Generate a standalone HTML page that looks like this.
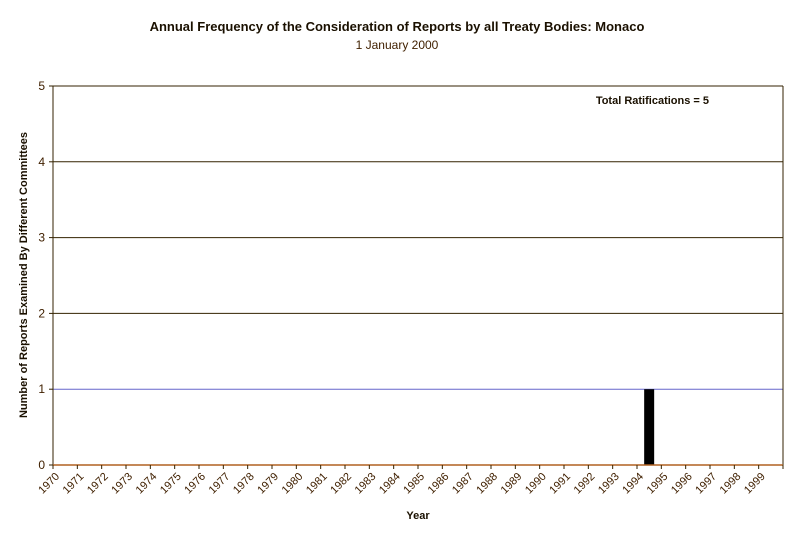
<!DOCTYPE html>
<html><head><meta charset="utf-8"><style>
body{margin:0;background:#fff;}
svg{display:block;font-family:"Liberation Sans",Arial,sans-serif;}
</style></head><body>
<svg id="chart" width="795" height="539">
<text x="397" y="31" text-anchor="middle" font-size="13" font-weight="bold" fill="#1a1000">Annual Frequency of the Consideration of Reports by all Treaty Bodies: Monaco</text>
<text x="397" y="49" text-anchor="middle" font-size="12" fill="#402000">1 January 2000</text>
<text x="709" y="104" text-anchor="end" font-size="11" font-weight="bold" fill="#1a1000">Total Ratifications = 5</text>
<text transform="translate(27,275) rotate(-90)" text-anchor="middle" font-size="11" font-weight="bold" fill="#1a1000">Number of Reports Examined By Different Committees</text>
<text x="418" y="519" text-anchor="middle" font-size="11" font-weight="bold" fill="#1a1000">Year</text>
<g id="grid"></g><g id="bars"></g><g id="axes"></g>
</svg>
<script>
const categories=[1970,1971,1972,1973,1974,1975,1976,1977,1978,1979,1980,1981,1982,1983,1984,1985,1986,1987,1988,1989,1990,1991,1992,1993,1994,1995,1996,1997,1998,1999];
const values=[0,0,0,0,0,0,0,0,0,0,0,0,0,0,0,0,0,0,0,0,0,0,0,0,1,0,0,0,0,0];
const yTicks=[0,1,2,3,4,5];
const L=53,R=783,T=86,B=465,yMax=5;
const NS="http://www.w3.org/2000/svg";
const bw=(R-L)/categories.length;
const xs=i=>L+i*bw;
const ys=v=>B-(v/yMax)*(B-T);
function mk(tag,attrs,parent){const e=document.createElementNS(NS,tag);for(const k in attrs)e.setAttribute(k,attrs[k]);document.getElementById(parent).appendChild(e);return e;}
yTicks.forEach(v=>{
  const y=ys(v);
  if(v>0){const g=mk('line',{x1:L,x2:R,y1:y,y2:y,stroke:v===1?'#6666cc':'#332200','stroke-width':1},'grid');
  
  }
  const t=mk('text',{x:L-8,y:y+4,'text-anchor':'end','font-size':12,fill:'#402000'},'axes');
  t.textContent=v;
  
  
  const tk=mk('line',{x1:L-4,x2:L,y1:y,y2:y,stroke:'#332200'},'axes');
  
  
});
values.forEach((v,i)=>{
  if(v<=0)return;
  const cx=xs(i)+bw/2;
  const r=mk('rect',{x:cx-5,y:ys(v),width:10,height:B-ys(v),fill:'#000'},'bars');
  
  
});
const ax=mk('line',{x1:L,x2:L,y1:T,y2:B,stroke:'#332200'},'axes');


const ax2=mk('line',{x1:R,x2:R,y1:T,y2:B,stroke:'#332200'},'axes');


const ax3=mk('line',{x1:L,x2:R,y1:T,y2:T,stroke:'#332200'},'axes');


const xa=mk('line',{x1:L,x2:R,y1:B,y2:B,stroke:'#b06020','stroke-width':1.5},'axes');


for(let i=0;i<=categories.length;i++){
  const tk=mk('line',{x1:xs(i),x2:xs(i),y1:B,y2:B+4,stroke:'#332200'},'axes');
  
  
}
categories.forEach((c,i)=>{
  const x=xs(i)+7,y=477;
  const t=mk('text',{x:x,y:y,'text-anchor':'end','font-size':11,fill:'#402000',transform:`rotate(-45 ${x} ${y})`},'axes');
  t.textContent=c;
  
  
});
</script>
</body></html>
